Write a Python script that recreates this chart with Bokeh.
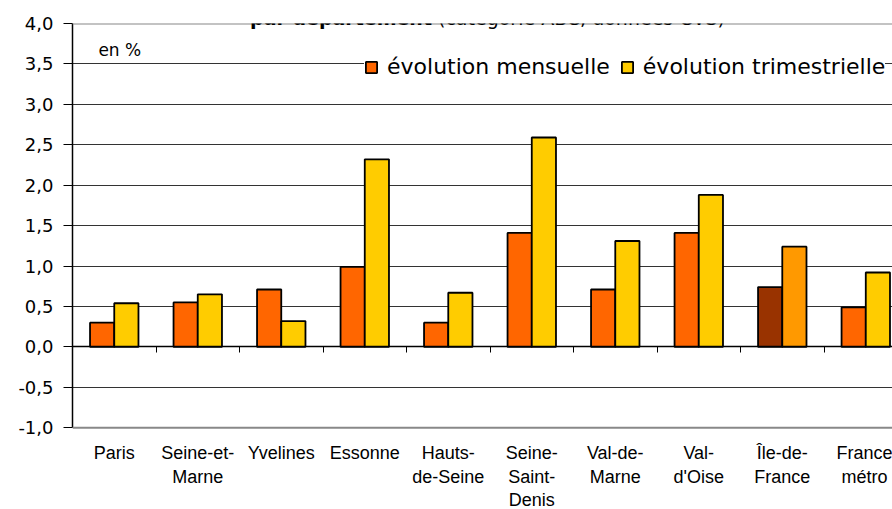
import numpy as np
from bokeh.plotting import figure
from bokeh.models import (ColumnDataSource, LinearAxis, FixedTicker, Span, Label,
                          Legend, LegendItem, Range1d)
from bokeh.transform import dodge
from bokeh.embed import file_html
from bokeh.resources import INLINE

# ---- data ----
categories = ["Paris", "Seine-et-\nMarne", "Yvelines", "Essonne", "Hauts-\nde-Seine",
              "Seine-\nSaint-\nDenis", "Val-de-\nMarne", "Val-\nd'Oise", "Île-de-\nFrance",
              "France\nmétro"]
evol_mensuelle = [0.30, 0.55, 0.71, 0.99, 0.30, 1.41, 0.71, 1.41, 0.74, 0.49]
evol_trimestrielle = [0.54, 0.65, 0.32, 2.32, 0.67, 2.59, 1.31, 1.88, 1.24, 0.92]
y_ticks = [-1.0, -0.5, 0.0, 0.5, 1.0, 1.5, 2.0, 2.5, 3.0, 3.5, 4.0]
y_tick_labels = ["-1,0", "-0,5", "0,0", "0,5", "1,0", "1,5", "2,0", "2,5", "3,0", "3,5", "4,0"]
series_names = ["évolution mensuelle", "évolution trimestrielle"]
title_bold = "par département"
title_rest = "(catégorie ABC, données CVS)"
unit_label = "en %"
highlight_category = "Île-de-\nFrance"

# ---- styles / layout ----
ORANGE, YELLOW = "#FF6600", "#FFCC00"
HL_M, HL_T = "#993300", "#FF9900"
W, H = 892, 509
TOP = 23            # px above the 4,0 line
PX_PER_UNIT = 80.85
y_lo, y_hi = y_ticks[0], y_ticks[-1]
# frame is extended down to the canvas bottom so that the category labels can hang below -1,0
y_frame_lo = y_hi - (H - TOP) / PX_PER_UNIT

n = len(categories)
xs = [i + 0.5 for i in range(n)]
boundaries = list(range(1, n))
m_colors = [HL_M if c == highlight_category else ORANGE for c in categories]
t_colors = [HL_T if c == highlight_category else YELLOW for c in categories]

src = ColumnDataSource(dict(x=xs, m=evol_mensuelle, t=evol_trimestrielle,
                            mc=m_colors, tc=t_colors))

p = figure(width=W, height=H, output_backend="svg", toolbar_location=None,
           x_axis_type=None, x_range=Range1d(0, 9.82), y_range=Range1d(y_frame_lo, y_hi),
           min_border_left=72, min_border_right=0, min_border_top=TOP, min_border_bottom=0)
p.outline_line_color = None
p.background_fill_color = "white"
p.border_fill_color = "white"

# y axis
ya = p.yaxis[0]
ya.bounds = (y_lo, y_hi)
ya.ticker = FixedTicker(ticks=y_ticks)
ya.major_label_overrides = dict(zip(y_ticks, y_tick_labels))
ya.major_label_text_font = "DejaVu Sans"
ya.major_label_text_font_size = "18px"
ya.major_label_text_color = "black"
ya.major_label_standoff = 10
ya.major_tick_in = 0
ya.major_tick_out = 9
ya.major_tick_line_color = "black"
ya.minor_tick_line_color = None
ya.axis_line_color = "black"
ya.axis_line_width = 1.5

p.ygrid.ticker = FixedTicker(ticks=y_ticks)
p.ygrid.grid_line_color = "#333333"
p.ygrid.grid_line_width = 1

# category label axis, hung at -1,0
label_axis = LinearAxis(ticker=FixedTicker(ticks=xs), fixed_location=y_lo,
                        major_label_overrides=dict(zip(xs, categories)))
label_axis.axis_line_color = None
label_axis.major_tick_line_color = None
label_axis.minor_tick_line_color = None
label_axis.major_label_standoff = 9
label_axis.major_label_text_font = "Liberation Sans"
label_axis.major_label_text_font_size = "18px"
label_axis.major_label_text_color = "black"
label_axis.major_label_text_line_height = 1.19
p.add_layout(label_axis, "below")

# zero axis with separator ticks between categories
zero_axis = LinearAxis(ticker=FixedTicker(ticks=boundaries), fixed_location=0,
                       major_label_overrides={b: "" for b in boundaries})
zero_axis.major_label_standoff = 0
zero_axis.major_tick_in = 0
zero_axis.major_tick_out = 6
zero_axis.major_tick_line_color = "black"
zero_axis.minor_tick_line_color = None
zero_axis.axis_line_color = "black"
zero_axis.axis_line_width = 1.5
p.add_layout(zero_axis, "below")

# bars
rm = p.vbar(x=dodge("x", -0.145, range=p.x_range), top="m", bottom=0, width=0.29,
            source=src, fill_color="mc", line_color="black", line_width=1.8)
rt = p.vbar(x=dodge("x", 0.145, range=p.x_range), top="t", bottom=0, width=0.29,
            source=src, fill_color="tc", line_color="black", line_width=1.8)

# plot-area top/bottom borders
p.add_layout(Span(location=y_hi, dimension="width", line_color="#888888", line_width=2))
p.add_layout(Span(location=y_lo, dimension="width", line_color="#888888", line_width=2))

# legend (location in px from the frame's bottom-left corner)
legend = Legend(items=[LegendItem(label=series_names[0], renderers=[rm], index=0),
                       LegendItem(label=series_names[1], renderers=[rt], index=0)],
                orientation="horizontal", location=(292, H - 79),
                background_fill_color="white", background_fill_alpha=1.0,
                border_line_color=None, glyph_width=14, glyph_height=14,
                label_standoff=9, spacing=10, padding=6, margin=0,
                label_text_font="DejaVu Sans", label_text_font_size="22px",
                label_text_color="black")
p.add_layout(legend)

# unit label
p.add_layout(Label(x=0.31, y=3.67, text=unit_label, text_font="DejaVu Sans",
                   text_font_size="17px", text_color="black", text_baseline="alphabetic"))

# title
p.add_layout(Label(x=4.305, y=4.066, text=title_bold, text_font="DejaVu Sans",
                   text_font_style="bold", text_font_size="19px", text_align="right",
                   text_baseline="alphabetic", text_color="black"))
p.add_layout(Label(x=4.377, y=4.066, text=title_rest, text_font="DejaVu Sans",
                   text_font_size="19px", text_align="left",
                   text_baseline="alphabetic", text_color="black"))

open("out.html", "w").write(file_html(p, INLINE))
